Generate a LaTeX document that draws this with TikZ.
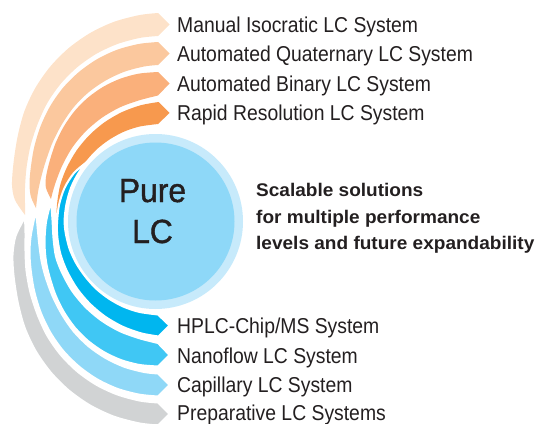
\documentclass[tikz,border=0pt]{standalone}
\usepackage{fontspec}
\setmainfont{Liberation Sans}
\newfontfamily\lblfont{Liberation Sans}[FakeStretch=0.9]
\newfontfamily\boldfont{Liberation Sans}[FakeStretch=1.04]
\newfontfamily\purefont{Liberation Sans}[FakeStretch=0.95,FakeBold=1.2]
\definecolor{cA}{HTML}{FDE2C9}
\definecolor{cB}{HTML}{FBC89E}
\definecolor{cC}{HTML}{FAB07B}
\definecolor{cD}{HTML}{F7994E}
\definecolor{cE}{HTML}{00B6EF}
\definecolor{cF}{HTML}{40C7F4}
\definecolor{cG}{HTML}{8FD8F7}
\definecolor{cH}{HTML}{D1D3D4}
\definecolor{ringc}{HTML}{C7EAFB}
\definecolor{corec}{HTML}{8ED8F8}
\definecolor{txt}{HTML}{231F20}
\begin{document}
\begin{tikzpicture}[x=1pt,y=-1pt,
  lbl/.style={anchor=base west, inner sep=0pt, text=txt, font=\lblfont\fontsize{21.5}{24}\selectfont},
  bld/.style={anchor=base west, inner sep=0pt, text=txt, font=\boldfont\bfseries\fontsize{18.3}{22}\selectfont},
  purestyle/.style={anchor=base, inner sep=0pt, text=txt, font=\purefont\fontsize{33.5}{40}\selectfont},
  blueband/.style={draw=white, line width=2pt, line join=round}]
\useasboundingbox (0,0) rectangle (540,423);

% orange bands
\fill[cA] plot[smooth] coordinates {(158,13) (139.3,15.1) (114,21.8) (90.3,32.9) (68.9,47.9) (50.4,66.4) (35.4,87.8) (24.3,111.5) (17.5,137) (13.5,163) (12,185) (15,200) (25,215)}
  -- plot[smooth] coordinates {(25,215) (25,203) (25,188) (26.5,168) (30.5,146) (37.7,123.8) (47.5,102.7) (60.9,83.6) (77.3,67.2) (96.4,53.8) (117.5,44) (140,37.9) (158,36)}
  -- (169.5,24.5) -- cycle;
\fill[cB] plot[smooth] coordinates {(158,42) (139.1,43.9) (117.5,49.6) (97.2,59.1) (78.9,72) (63,87.8) (50.2,106.1) (40.5,126.4) (34,148) (30.5,170) (29.5,185) (31,197) (36,208)}
  -- plot[smooth] coordinates {(36,208) (38,192) (41,178) (45.5,162) (52.5,142.7) (62.1,124) (73.9,107) (88.5,92.4) (105.5,80.6) (124.2,71.8) (144.1,66.5) (158,65)}
  -- (169.5,53.5) -- cycle;
\fill[cC] plot[smooth] coordinates {(158,72) (139.1,73.6) (120.8,78.5) (103.7,86.5) (88.2,97.4) (74.9,110.7) (64,126.2) (55.5,143.3) (49.5,161.6) (46,177) (46,188) (51,199)}
  -- plot[smooth] coordinates {(51,199) (53,191) (56.5,180) (62.5,165) (72.6,147.1) (86,131.1) (102,117.7) (120,107.3) (139.6,100.2) (158,95.5)}
  -- (169.5,83.5) -- cycle;
\fill[cD] plot[smooth] coordinates {(158.5,102) (140.9,105.2) (122.2,112) (104.9,122) (89.7,134.8) (76.9,150) (66.9,167.3) (60.5,184) (57.5,200) (56.5,212)}
  -- (60,220)
  -- plot[smooth] coordinates {(64.6,218) (65.7,205.6) (69.5,190) (76.2,175.4) (85.2,162.1) (96,150) (108.9,139.9) (123.4,131.9) (139.3,126.6) (158,124)}
  -- (169.5,113) -- cycle;

% blue bands
\filldraw[blueband, fill=cH] plot[smooth] coordinates {(158,425.5) (139.3,423.4) (114,416.7) (90.3,405.6) (68.9,390.6) (50.4,372.1) (35.4,350.7) (24.3,327) (17.5,301.5) (13.5,275.5) (12.5,255) (15.5,236) (25,217)}
  -- plot[smooth] coordinates {(25,217) (25.5,233) (25.5,251) (26.5,270.5) (30.5,292.5) (37.7,314.7) (47.5,335.8) (60.9,354.9) (77.3,371.3) (96.4,384.7) (117.5,394.5) (140,400.6) (158,402.5)}
  -- (169.5,414) -- cycle;
\filldraw[blueband, fill=cG] plot[smooth] coordinates {(158,396.5) (139.1,394.6) (117.5,388.9) (97.2,379.4) (78.9,366.5) (63,350.7) (50.2,332.4) (40.5,312.1) (34,290.5) (30.5,268.5) (29.5,251) (31,234) (36,210)}
  -- plot[smooth] coordinates {(36,210) (37.5,226) (39,242) (41.5,260.5) (45.5,276.5) (52.5,295.8) (62.1,314.5) (73.9,331.5) (88.5,346.1) (105.5,357.9) (124.2,366.7) (144.1,372) (158,373.5)}
  -- (169.5,385) -- cycle;
\filldraw[blueband, fill=cF] plot[smooth] coordinates {(158,366.5) (139.1,364.9) (120.8,360) (103.7,352) (88.2,341.1) (74.9,327.8) (64,312.3) (55.5,295.2) (49.5,276.9) (46,261.5) (44.5,243) (46,222) (51,201)}
  -- plot[smooth] coordinates {(51,201) (52.5,220) (53.5,238) (56,256.5) (62.5,273.5) (72.6,291.4) (86,307.4) (102,320.8) (120,331.2) (139.6,338.3) (158,343)}
  -- (169.5,355) -- cycle;
\filldraw[blueband, fill=cE] plot[smooth] coordinates {(158.5,336.5) (140.9,333.3) (122.2,326.5) (104.9,316.5) (89.7,303.7) (76.9,288.5) (66.9,271.2) (60.5,254.5) (57.5,238.5) (57,224) (59,205) (64.5,188) (74,173) (87,162)}
  -- plot[smooth] coordinates {(87,162) (78,174) (71,188) (66.5,204) (64.6,220) (65.7,232.9) (69.5,248.5) (76.2,263.1) (85.2,276.4) (96,288.5) (108.9,298.6) (123.4,306.6) (139.3,311.9) (158,314.5)}
  -- (169.5,325.5) -- cycle;

% central circle
\fill[ringc] (155.5,221.5) circle[radius=87.5];
\fill[corec] (155.5,221.5) circle[radius=79];
\node[purestyle] (pure) at (152.5,202) {Pure};
\node[purestyle] (lc) at (152.5,243) {LC};

% side text
\node[bld] (s1) at (256,196.5) {Scalable solutions};
\node[bld] (s2) at (256,223) {for multiple performance};
\node[bld] (s3) at (256,249.5) {levels and future expandability};

% labels
\node[lbl] (t1) at (177,32) {Manual Isocratic LC System};
\node[lbl] (t2) at (177,61) {Automated Quaternary LC System};
\node[lbl] (t3) at (177,91) {Automated Binary LC System};
\node[lbl] (t4) at (177,120.5) {Rapid Resolution LC System};
\node[lbl] (t5) at (177,333) {HPLC-Chip/MS System};
\node[lbl] (t6) at (177,363.5) {Nanoflow LC System};
\node[lbl] (t7) at (177,392.5) {Capillary LC System};
\node[lbl] (t8) at (177,420.5) {Preparative LC Systems};
\end{tikzpicture}
\end{document}
